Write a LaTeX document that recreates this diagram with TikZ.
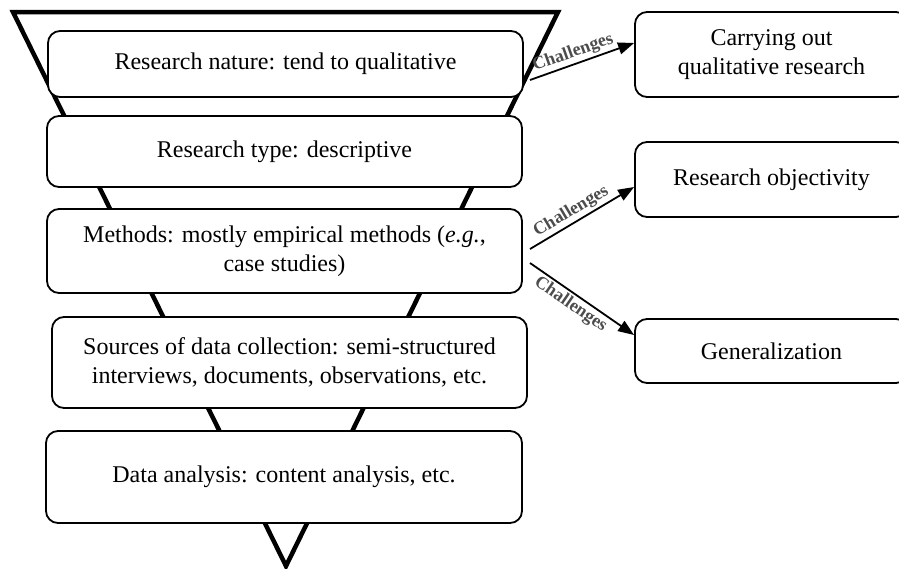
\documentclass[tikz,border=0pt]{standalone}
\usepackage{fontspec}
\setmainfont{Liberation Serif}
\usetikzlibrary{arrows.meta}
\begin{document}
\begin{tikzpicture}[x=1pt,y=-1pt,
  stage/.style={draw=black,line width=1.8pt,fill=white,rounded corners=12pt,
    inner sep=0pt,align=center,font=\fontsize{24}{28.5}\selectfont},
  issue/.style={stage},
  funnel/.style={line width=4.5pt,line join=miter},
  arr/.style={line width=1.8pt,-{Triangle[length=16pt,width=12pt]}},
  chal/.style={sloped,above,inner sep=2pt,text=black!70,
    font=\fontsize{18}{20}\selectfont\bfseries}]
\useasboundingbox (0,0) rectangle (899,568);
\clip (0,0) rectangle (899,568);
% funnel outline behind the stages
\draw[funnel] (13,12) -- (558,12) -- (286,566) -- cycle;
% stages of the research design
\node[stage,minimum width=475pt,minimum height=66pt] (nature) at (285.5,64)
  {Research nature: tend to qualitative};
\node[stage,minimum width=475pt,minimum height=71pt] (type) at (284.5,151.5)
  {Research type: descriptive};
\node[stage,minimum width=475pt,minimum height=84pt] (methods) at (284.5,251)
  {Methods: mostly empirical methods (\textit{e.g.},\\ case studies)};
\node[stage,minimum width=475pt,minimum height=91pt] (sources) at (289.5,362.5)
  {Sources of data collection: semi-structured\\ interviews, documents, observations, etc.};
\node[stage,minimum width=476pt,minimum height=92pt] (analysis) at (284,477)
  {Data analysis: content analysis, etc.};
% challenges
\node[issue,minimum width=273pt,minimum height=85pt] (qual) at (771.5,54.5)
  {Carrying out\\ qualitative research};
\node[issue,minimum width=273pt,minimum height=75pt] (obj) at (771.5,179.5)
  {Research objectivity};
\node[issue,minimum width=273pt,minimum height=64pt] (gen) at (771.5,351)
  {Generalization};
% arrows
\coordinate (s1) at (530,80);
\coordinate (s2) at (530,249);
\coordinate (s3) at (530,263);
\draw[arr] (s1) -- ([yshift=11.5pt]qual.west) node[chal,pos=0.45] {Challenges};
\draw[arr] (s2) -- ([yshift=-7.5pt]obj.west) node[chal,pos=0.45] {Challenges};
\draw[arr] (s3) -- ([yshift=16pt]gen.west) node[chal,below,pos=0.45] {Challenges};
\end{tikzpicture}
\end{document}
